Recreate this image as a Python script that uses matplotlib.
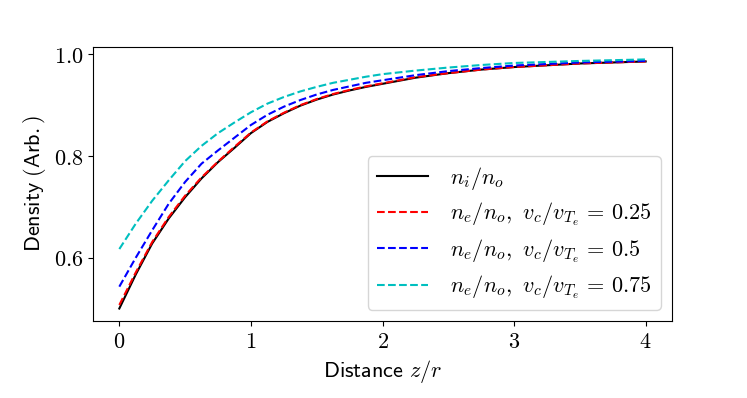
import numpy as np
import matplotlib
matplotlib.use("Agg")
from matplotlib import pyplot as plt

#-------------------------------DATA------------------------------
z = [0.0, 0.125, 0.25, 0.375, 0.5, 0.625, 0.75, 0.875, 1.0,
     1.125, 1.25, 1.375, 1.5, 1.625, 1.75, 1.875, 2.0,
     2.25, 2.5, 2.75, 3.0, 3.5, 4.0]

n_ion = [0.500, 0.567, 0.628, 0.677, 0.719, 0.756, 0.788, 0.816, 0.845,
         0.867, 0.884, 0.899, 0.911, 0.921, 0.929, 0.936, 0.942,
         0.954, 0.963, 0.970, 0.975, 0.982, 0.986]
n_e_025 = [0.507, 0.571, 0.631, 0.680, 0.722, 0.758, 0.789, 0.818, 0.846,
           0.868, 0.885, 0.900, 0.912, 0.922, 0.930, 0.937, 0.943,
           0.955, 0.963, 0.970, 0.975, 0.982, 0.986]
n_e_05 = [0.543, 0.600, 0.654, 0.706, 0.749, 0.785, 0.811, 0.836, 0.861,
          0.881, 0.897, 0.910, 0.921, 0.930, 0.937, 0.944, 0.949,
          0.959, 0.967, 0.973, 0.978, 0.984, 0.987]
n_e_075 = [0.617, 0.667, 0.712, 0.752, 0.790, 0.820, 0.845, 0.866, 0.886,
           0.903, 0.916, 0.927, 0.936, 0.944, 0.950, 0.956, 0.961,
           0.968, 0.974, 0.979, 0.983, 0.987, 0.990]

labels = [r'$n_i/n_o$',
          r'$n_e/n_o,$ $v_c/v_{T_e}\,=\,0.25$',
          r'$n_e/n_o,$ $v_c/v_{T_e}\,=\,0.5$',
          r'$n_e/n_o,$ $v_c/v_{T_e}\,=\,0.75$']

#-------------------------------STYLE------------------------------------------------------
plt.rcParams['mathtext.fontset'] = 'cm'
plt.rcParams['font.family'] = 'serif'
plt.rcParams['font.serif'] = ['DejaVu Serif']
plt.rcParams['axes.formatter.use_mathtext'] = True
fs = 16

fig = plt.figure(figsize=(7.47, 3.98), dpi=100)
ax = fig.add_axes([0.1245, 0.1935, 0.7751, 0.6885])

ax.plot(z, n_ion, 'k-', lw=1.5, label=labels[0])
ax.plot(z, n_e_025, 'r--', lw=1.5, label=labels[1])
ax.plot(z, n_e_05, 'b--', lw=1.5, label=labels[2])
ax.plot(z, n_e_075, 'c--', lw=1.5, label=labels[3])

ax.set_xticks([0, 1, 2, 3, 4])
ax.set_xticklabels([r'$0$', r'$1$', r'$2$', r'$3$', r'$4$'])
ax.set_yticks([0.6, 0.8, 1.0])
ax.set_yticklabels([r'$0.6$', r'$0.8$', r'$1.0$'])
ax.tick_params(labelsize=fs)

ax.set_xlabel(r'$\mathsf{Distance}\ z/r$', fontsize=fs)
ax.set_ylabel(r'$\mathsf{Density\ (Arb.)}$', fontsize=fs)

ax.legend(loc='lower right', fontsize=fs, handlelength=2.3, labelspacing=0.4,
          handletextpad=1.0)

fig.savefig('out.png', dpi=100)
